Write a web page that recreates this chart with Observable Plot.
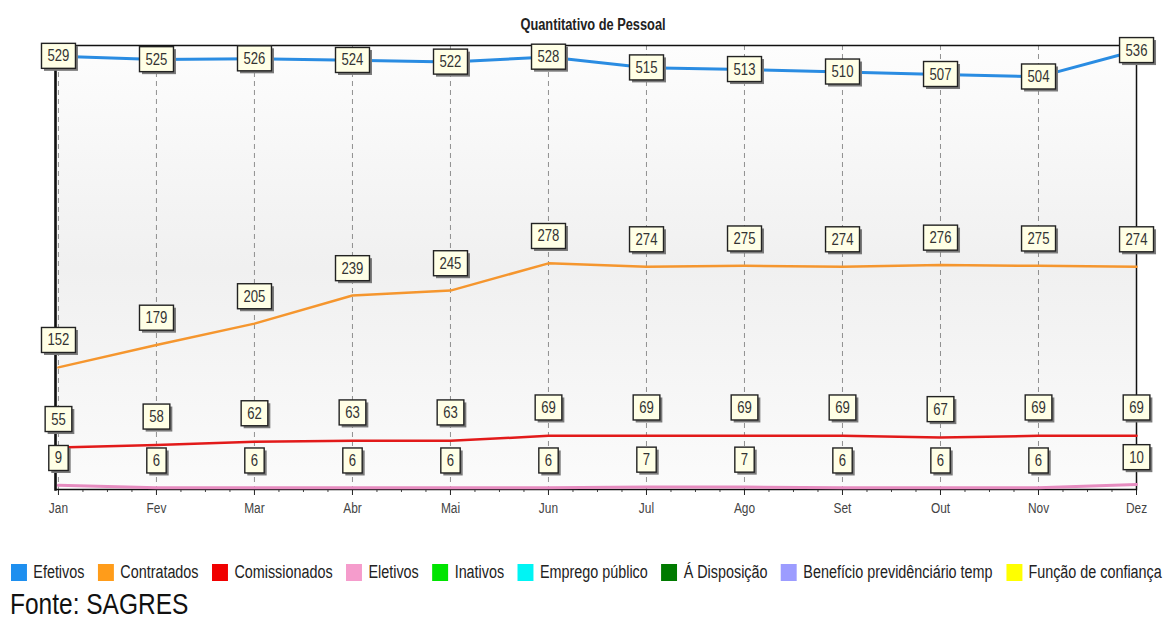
<!DOCTYPE html>
<html><head><meta charset="utf-8">
<script src="https://cdn.jsdelivr.net/npm/d3@7"></script>
<script src="https://cdn.jsdelivr.net/npm/@observablehq/plot@0.6"></script>
<style>
body{margin:0;background:#fff;width:1176px;height:623px;overflow:hidden;position:relative;font-family:'Liberation Sans',Arial,sans-serif;}
#chart{position:absolute;left:0;top:0;}
#legend{position:absolute;left:11px;top:562px;display:flex;align-items:center;font-size:18px;color:#222;white-space:nowrap;transform-origin:0 50%}
.item{display:flex;align-items:center;margin-right:17px}
.sw{width:20px;height:17px;margin-right:8px}
#fonte{position:absolute;left:10px;top:587px;font-size:30px;color:#111;white-space:nowrap;transform-origin:0 50%}
</style></head><body>
<div id="chart"></div>
<div id="legend"></div>
<div id="fonte">Fonte: SAGRES</div>
<script>
const title = "Quantitativo de Pessoal";
const months = ["Jan","Fev","Mar","Abr","Mai","Jun","Jul","Ago","Set","Out","Nov","Dez"];
const efetivos = [529,525,526,524,522,528,515,513,510,507,504,536];
const contratados = [152,179,205,239,245,278,274,275,274,276,275,274];
const comissionados = [55,58,62,63,63,69,69,69,69,67,69,69];
const eletivos = [9,6,6,6,6,6,7,7,6,6,6,10];
const legendNames = ["Efetivos","Contratados","Comissionados","Eletivos","Inativos","Emprego público","Á Disposição","Benefício previdênciário temp","Função de confiança"];
const legendColors = ["#1e8fef","#ff9c1a","#f00000","#f59ccc","#00e400","#00f4f4","#007a00","#9c9cff","#ffff00"];

const FONT = "'Liberation Sans',Arial,sans-serif";
const series = [
  {name:"Efetivos", values:efetivos, color:"#2a8ce2", width:3, dy:0},
  {name:"Contratados", values:contratados, color:"#f5962e", width:2.5, dy:-27},
  {name:"Comissionados", values:comissionados, color:"#e21a1a", width:2.5, dy:-28},
  {name:"Eletivos", values:eletivos, color:"#e68cc0", width:3, dy:-27}
];
const rows = series.map(s => s.values.map((v,i)=>({name:s.name, i, v})));
const idx = d3.range(months.length);
const minor = d3.range(0, 11.001, 0.25).filter(t => t % 1 !== 0);

const marks = [
  Plot.frame({fill:"url(#bgGrad)", stroke:null}),
  Plot.gridX(idx, {stroke:"#777", strokeOpacity:0.8, strokeDasharray:"5,4"}),
  Plot.axisX(idx, {tickFormat:i=>months[i], tickSize:6, tickPadding:8, fontSize:14, fill:"#444", stroke:"#222", fontFamily:FONT, label:null, ariaDescription:"condense"}),
  Plot.axisX(minor, {tickFormat:()=> "", tickSize:3, stroke:"#444", label:null}),
  Plot.frame({stroke:"#111", strokeWidth:1.5}),
  Plot.frame({anchor:"left", stroke:"#111", strokeWidth:2.5}),
  ...series.slice().reverse().map((s,k)=>Plot.lineY(rows[series.length-1-k], {x:"i", y:"v", stroke:s.color, strokeWidth:s.width})),
  ...series.map((s,k)=>Plot.text(rows[k], {x:"i", y:"v", text:d=>String(d.v), dy:s.dy, fontSize:16, fill:"#333", fontFamily:FONT, ariaDescription:"boxlabels"})),
  Plot.text([title], {frameAnchor:"top", dy:-27, dx:-3, fontWeight:"bold", fontSize:16, fill:"#222", fontFamily:FONT, ariaDescription:"title"})
];

const chart = Plot.plot({
  width:1176, height:530,
  marginLeft:55, marginRight:40, marginTop:45, marginBottom:41,
  x:{type:"linear", domain:[-0.03, 11], axis:null},
  y:{domain:[4, 542], axis:null},
  style:{background:"transparent", fontFamily:FONT, overflow:"visible"},
  marks
});
document.getElementById("chart").appendChild(chart);

const svg = d3.select(chart);
const defs = svg.insert("defs", ":first-child");
const g = defs.append("linearGradient").attr("id","bgGrad").attr("x1",0).attr("y1",0).attr("x2",0).attr("y2",1);
g.append("stop").attr("offset","0%").attr("stop-color","#fdfdfd");
g.append("stop").attr("offset","50%").attr("stop-color","#f0f0f0");
g.append("stop").attr("offset","100%").attr("stop-color","#fbfbfb");

function condense(sel, f){
  sel.each(function(){
    const L = this.getComputedTextLength();
    this.setAttribute("textLength", L*f);
    this.setAttribute("lengthAdjust","spacingAndGlyphs");
  });
}
condense(svg.selectAll('g[aria-description="condense"] text'), 0.85);
condense(svg.selectAll('g[aria-description="title"] text'), 0.8);
condense(svg.selectAll('g[aria-description="boxlabels"] text'), 0.82);

svg.selectAll('g[aria-description="boxlabels"] text').each(function(){
  const b = this.getBBox();
  const tr = this.getAttribute("transform");
  const parent = this.parentNode;
  const padX = 6, padY = 4;
  for (const [off, fill, stroke] of [[2.5,"#7a7a7a","none"],[0,"#ffffe6","#222"]]) {
    const el = document.createElementNS("http://www.w3.org/2000/svg","rect");
    el.setAttribute("x", b.x - padX + off);
    el.setAttribute("y", b.y - padY + off);
    el.setAttribute("width", b.width + 2*padX);
    el.setAttribute("height", b.height + 2*padY);
    el.setAttribute("fill", fill);
    el.setAttribute("stroke", stroke);
    el.setAttribute("stroke-width", 1.4);
    if (tr) el.setAttribute("transform", tr);
    parent.insertBefore(el, this);
  }
});

const leg = d3.select("#legend");
legendNames.forEach((n,k)=>{
  const it = leg.append("div").attr("class","item");
  it.append("div").attr("class","sw").style("background", legendColors[k]);
  it.append("span").text(n);
});
const legNode = document.getElementById("legend");
const lw = legNode.scrollWidth - 17;
legNode.style.transform = `scaleX(${(1162-11)/lw})`;
const fonte = document.getElementById("fonte");
fonte.style.transform = `scaleX(${178/fonte.scrollWidth})`;
</script>
</body></html>
